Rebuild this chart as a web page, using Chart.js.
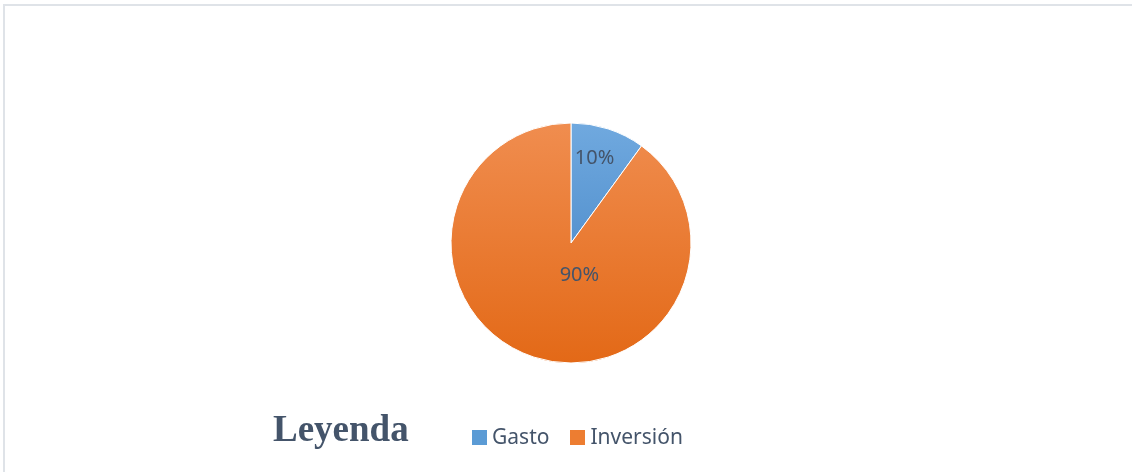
<!DOCTYPE html>
<html>
<head>
<meta charset="utf-8">
<script src="https://cdn.jsdelivr.net/npm/chart.js@4"></script>
<style>
    html, body { margin: 0; padding: 0; background: #fff; }
    #wrap { position: relative; width: 1132px; height: 472px; overflow: hidden; }
    #frame { position: absolute; left: 3px; top: 4px; right: 0; bottom: 0;
             border-top: 2px solid #dfe3e8; border-left: 2px solid #dfe3e8; }
    #leyenda { position: absolute; left: 273px; top: 407px; font: bold 37px "Liberation Serif", serif;
               color: #44546a; }
    #legend { position: absolute; left: 472px; top: 422px; display: flex;
              font: 21px "Noto Sans", "Open Sans", sans-serif; line-height: 29px; color: #44546a; }
    #legend .item { display: flex; align-items: flex-start; margin-right: 21px; }
    #legend .box { width: 15px; height: 15px; margin-top: 8px; margin-right: 5px; }
</style>
</head>
<body>
<div id="wrap">
    <div id="frame"></div>
    <canvas id="pieChart" width="1132" height="472"></canvas>
    <div id="leyenda">Leyenda</div>
    <div id="legend"></div>
</div>
<script>
// Chart data
const categories = ['Gasto', 'Inversión'];
const shares = [10, 90];

// top / bottom colours of each slice's vertical gradient
const sliceTop = ['#70a9df', '#f08d4f'];
const sliceBottom = ['#3b7dc0', '#e36917'];
const legendColors = ['#5b9bd5', '#ed7d31'];

const PIE_RADIUS = 120;

function sliceFill(context) {
    const chart = context.chart;
    const area = chart.chartArea;
    if (!area) return sliceTop[context.dataIndex];
    const cy = (area.top + area.bottom) / 2;
    const g = chart.ctx.createLinearGradient(0, cy - PIE_RADIUS, 0, cy + PIE_RADIUS);
    g.addColorStop(0, sliceTop[context.dataIndex]);
    g.addColorStop(1, sliceBottom[context.dataIndex]);
    return g;
}

// Excel-style percentage labels inside the slices (offset relative to radius)
const labelOffsets = [[0.196, -0.705], [0.07, 0.27]];
const percentLabels = {
    id: 'percentLabels',
    afterDatasetsDraw(chart) {
        const ctx = chart.ctx;
        const meta = chart.getDatasetMeta(0);
        const total = shares.reduce((a, b) => a + b, 0);
        ctx.save();
        ctx.font = '20px "Noto Sans", "Open Sans", sans-serif';
        ctx.fillStyle = '#44546a';
        ctx.textAlign = 'center';
        ctx.textBaseline = 'middle';
        meta.data.forEach((arc, i) => {
            const r = arc.outerRadius;
            const x = arc.x + labelOffsets[i][0] * r;
            const y = arc.y + labelOffsets[i][1] * r;
            ctx.fillText(Math.round(shares[i] / total * 100) + '%', x, y);
        });
        ctx.restore();
    }
};

// HTML legend built from the chart's own labels
const htmlLegend = {
    id: 'htmlLegend',
    afterUpdate(chart) {
        const box = document.getElementById('legend');
        box.innerHTML = '';
        chart.data.labels.forEach((label, i) => {
            const item = document.createElement('div');
            item.className = 'item';
            item.innerHTML = `<span class="box" style="background:${legendColors[i]}"></span><span>${label}</span>`;
            box.appendChild(item);
        });
    }
};

const ctx = document.getElementById('pieChart').getContext('2d');
const pieChart = new Chart(ctx, {
    type: 'pie',
    data: {
        labels: categories,
        datasets: [{
            data: shares,
            backgroundColor: sliceFill,
            borderColor: '#ffffff',
            borderWidth: 1,
            radius: PIE_RADIUS
        }]
    },
    options: {
        responsive: false,
        animation: false,
        layout: { padding: { top: 14, bottom: 0, left: 10, right: 0 } },
        plugins: {
            tooltip: { enabled: false },
            legend: { display: false }
        }
    },
    plugins: [percentLabels, htmlLegend]
});
</script>
</body>
</html>
